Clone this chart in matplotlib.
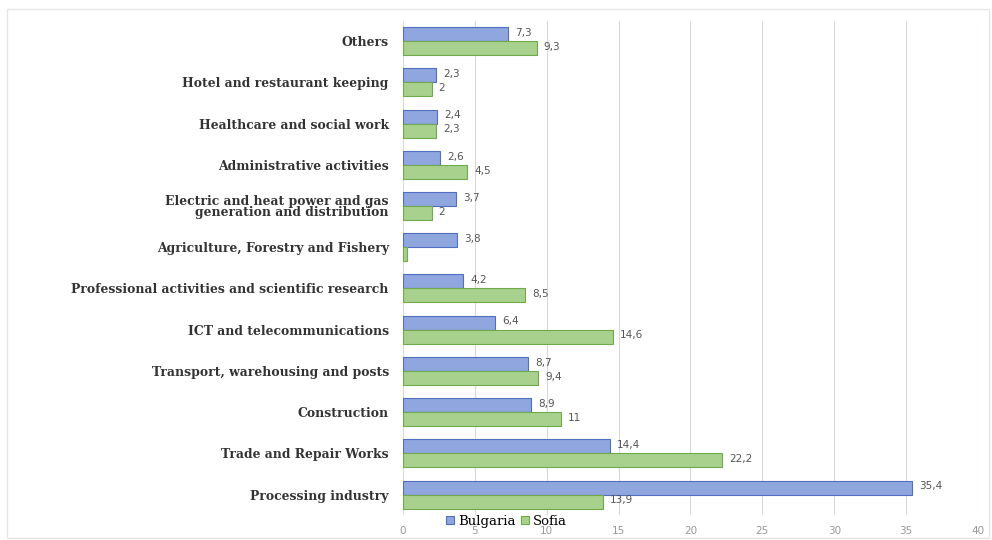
import numpy as np
import matplotlib.pyplot as plt
from matplotlib.patches import Rectangle

# categories listed top to bottom as in the chart
categories = [
    'Others',
    'Hotel and restaurant keeping',
    'Healthcare and social work',
    'Administrative activities',
    'Electric and heat power and gas\ngeneration and distribution',
    'Agriculture, Forestry and Fishery',
    'Professional activities and scientific research',
    'ICT and telecommunications',
    'Transport, warehousing and posts',
    'Construction',
    'Trade and Repair Works',
    'Processing industry',
]
bulgaria = [7.3, 2.3, 2.4, 2.6, 3.7, 3.8, 4.2, 6.4, 8.7, 8.9, 14.4, 35.4]
sofia = [9.3, 2, 2.3, 4.5, 2, 0.3, 8.5, 14.6, 9.4, 11, 22.2, 13.9]
x_ticks = [0, 5, 10, 15, 20, 25, 30, 35, 40]

fig = plt.figure(figsize=(9.92, 5.4), dpi=100)
ax = fig.add_axes([0.406, 0.046, 0.58, 0.916])

# light frame around the whole figure
fig.patches.append(Rectangle((0.007, 0.004), 0.99, 0.98, transform=fig.transFigure,
                             fill=False, edgecolor='#e6e6e6', linewidth=1))

y = np.arange(len(categories))
h = 0.34
b1 = ax.barh(y - h / 2, bulgaria, height=h, color='#8fa6de', edgecolor='#4f6fc0',
             linewidth=0.8, label='Bulgaria')
b2 = ax.barh(y + h / 2, sofia, height=h, color='#a9d18e', edgecolor='#6fab4a',
             linewidth=0.8, label='Sofia')


def fmt(v):
    return f'{v:g}'.replace('.', ',')


for bars, vals in ((b1, bulgaria), (b2, sofia)):
    for bar, v in zip(bars, vals):
        if v < 1:
            continue
        ax.text(bar.get_width() + 0.5, bar.get_y() + bar.get_height() / 2 - 0.03, fmt(v),
                ha='left', va='center', fontsize=7.5, color='#555555')

ax.set_ylim(len(categories) - 0.5, -0.5)
ax.set_xlim(0, 40)
ax.set_xticks(x_ticks)
ax.set_yticks(y)
ax.set_yticklabels(categories, fontfamily='DejaVu Serif', fontweight='bold',
                   fontsize=8.9, color='#333333', linespacing=0.85)
ax.tick_params(axis='y', length=0, pad=10)
ax.tick_params(axis='x', length=0, pad=8, labelsize=7.5, labelcolor='#999999')

ax.grid(axis='x', color='#d9d9d9', linewidth=0.8)
ax.set_axisbelow(True)
for s in ax.spines.values():
    s.set_visible(False)

fig.legend(handles=[b1, b2], loc='center left', bbox_to_anchor=(0.438, 0.035),
           ncol=2, frameon=False, handlelength=0.6, handleheight=0.6,
           handletextpad=0.3, columnspacing=0.4,
           prop={'family': 'DejaVu Serif', 'size': 9.5})

plt.savefig('out.png', dpi=100)
